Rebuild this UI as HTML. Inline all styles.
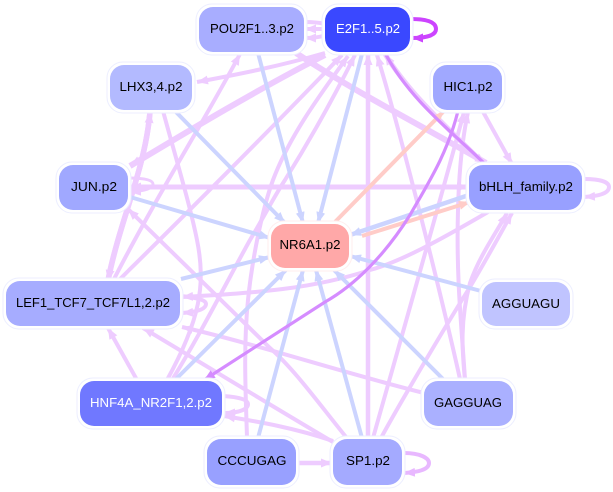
<!DOCTYPE html>
<html><head><meta charset="utf-8"><style>
html,body{margin:0;padding:0;background:#fff;width:613px;height:492px;overflow:hidden}
svg{display:block}
text{font-family:"Liberation Sans",sans-serif;font-size:12.5px;text-anchor:middle}
.p{stroke:#eeccff;fill:none}
.b{stroke:#ccd4ff;fill:none}
.s{stroke:#ffccc8;fill:none}
.v{stroke:#d58cff;fill:none}
.o{fill:#fff;stroke:#eceeff;stroke-width:1}
</style></head><body>
<svg width="613" height="492" viewBox="0 0 613 492" xmlns="http://www.w3.org/2000/svg">
<defs>
<marker id="mp" markerUnits="userSpaceOnUse" markerWidth="12" markerHeight="10" refX="11" refY="5" orient="auto"><polygon points="0,0.5 11,5 0,9.5" fill="#eeccff"/></marker>
<marker id="mb" markerUnits="userSpaceOnUse" markerWidth="12" markerHeight="10" refX="11" refY="5" orient="auto"><polygon points="0,0.5 11,5 0,9.5" fill="#ccd4ff"/></marker>
<marker id="ms" markerUnits="userSpaceOnUse" markerWidth="12" markerHeight="10" refX="11" refY="5" orient="auto"><polygon points="0,0.5 11,5 0,9.5" fill="#ffccc8"/></marker>
<marker id="mv" markerUnits="userSpaceOnUse" markerWidth="12" markerHeight="10" refX="11" refY="5" orient="auto"><polygon points="0,0.5 11,5 0,9.5" fill="#d58cff"/></marker>
<marker id="mc" markerUnits="userSpaceOnUse" markerWidth="12" markerHeight="10" refX="11" refY="5" orient="auto"><polygon points="0,0.5 11,5 0,9.5" fill="#cc44ff"/></marker>
<marker id="ml" markerUnits="userSpaceOnUse" markerWidth="12" markerHeight="10" refX="11" refY="5" orient="auto"><polygon points="0,0.5 11,5 0,9.5" fill="#e8b8ff"/></marker>
</defs>

<!-- pink edges -->
<g class="p" stroke-width="4" marker-end="url(#mp)">
<path d="M325 53 C280 66 240 74 197 82"/>
<path d="M325 55 C260 88 190 130 130 166" stroke-width="6"/>
<path d="M114 279 C160 190 205 120 240 54"/>
<path d="M296 53 C360 95 430 130 486 163" stroke-width="6"/>
<path d="M118 281 C190 210 270 130 342 55"/>
<path d="M172 380 C200 335 225 285 250 240 C265 215 275 195 285 180 C310 140 335 95 355 55"/>
<path d="M247 438 C246 400 243 350 248 300 C252 260 262 210 273 180 C290 135 320 95 348 56"/>
<path d="M163 111 C175 155 190 205 197 240 C206 285 200 320 167 380" marker-end="none"/>
<path d="M368 438 L368 54" stroke-width="4.5"/>
<path d="M460 379 C440 290 400 130 377 55"/>
<path d="M486 166 C450 130 410 95 385 54" stroke-width="5"/>
<path d="M373 438 C395 360 435 220 464 112"/>
<path d="M465 380 C462 330 456 280 458 210 C459 170 462 140 468 112"/>
<path d="M482 110 L512 164"/>
<path d="M381 438 C395 412 440 335 470 287 C485 262 498 238 512 213"/>
<path d="M465 380 C462 350 460 320 470 283 C480 255 495 235 507 213"/>
<path d="M488 212 C440 240 400 262 370 270 C310 290 250 293 182 297"/>
<path d="M130 187 L468 187" stroke-width="5"/>
<path d="M468 187 L130 187" stroke-width="5"/>
<path d="M108 280 C120 220 145 170 150 112" stroke-width="5.5"/>
<path d="M150 112 C145 170 120 220 108 281" stroke-width="5.5"/>
<path d="M346 437 C320 405 295 370 270 348 L128 209"/>
<path d="M333 442 C270 405 205 365 143 328"/>
<path d="M424 393 C340 372 260 345 182 327"/>
<path d="M137 380 L108 328"/>
<path d="M333 441 C295 428 260 422 224 416"/>
<path d="M296 463 L332 463" stroke-width="4.5"/>
<!-- self loops / short links -->
<path d="M304 22 C320 22 331 24 331 29 C331 35 320 38 305 38"/>
<path d="M325 29 L305 29"/>
<path d="M128 178 C148 178 153 181 153 184 C153 188 145 191 130 192" stroke-width="3"/>
<path d="M181 296 C198 298 206 300 206 304 C206 309 198 312 182 313"/>
<path d="M223 396 C240 397 248 400 248 404 C248 409 240 413 224 413"/>
<path d="M584 179 C600 179 609 182 609 187 C609 193 600 196 584 197"/>
<path d="M404 453 C420 453 429 458 429 463 C429 469 420 472 404 473" stroke="#e8b8ff" marker-end="url(#ml)"/>
</g>

<!-- blue edges -->
<g class="b" stroke-width="4">
<path d="M258 53 L303 223" marker-end="url(#mb)"/>
<path d="M362 54 L318 223" marker-end="url(#mb)"/>
<path d="M175 111 L285 223" marker-end="url(#mb)"/>
<path d="M130 197 L270 238" marker-end="url(#mb)"/>
<path d="M181 279 L270 257" marker-end="url(#mb)"/>
<path d="M175 380 L286 270" marker-end="url(#mb)"/>
<path d="M258 438 L303 270" marker-end="url(#mb)"/>
<path d="M362 438 L316 270" marker-end="url(#mb)"/>
<path d="M445 381 L334 270" marker-end="url(#mb)"/>
<path d="M481 291 L350 256" marker-end="url(#mb)"/>
<path d="M469 195 L350 235" stroke-width="4.5" marker-end="url(#mb)"/>
</g>

<!-- salmon edges -->
<g class="s" stroke-width="4">
<path d="M334 223 L444 111" marker-end="url(#ms)"/>
<path d="M362 236 L470 202" marker-end="url(#ms)"/>
</g>

<!-- purple edges -->
<g class="v" stroke-width="3.2">
<path d="M458 111 C447 155 427 185 410 215 C385 255 355 285 325 302 C290 325 250 350 204 380" marker-end="url(#mv)"/>
<path d="M385 53 C410 100 450 130 486 165"/>
</g>
<path d="M411 19 C427 19 436 22 436 29 C436 35 427 38 412 38" stroke="#cc44ff" stroke-width="4" fill="none" marker-end="url(#mc)"/>

<!-- nodes -->
<rect class="o" x="196" y="4" width="111" height="51" rx="16"/><rect x="199" y="7" width="105" height="45" rx="14" fill="#a8adff"/>
<text x="252" y="33" textLength="84" lengthAdjust="spacingAndGlyphs">POU2F1..3.p2</text>

<rect class="o" x="322" y="4" width="91" height="51" rx="16"/><rect x="325" y="7" width="85" height="45" rx="14" fill="#3a48ff"/>
<text x="368" y="33" fill="#fff" textLength="64" lengthAdjust="spacingAndGlyphs">E2F1..5.p2</text>

<rect class="o" x="107" y="62" width="88" height="51" rx="16"/><rect x="110" y="65" width="82" height="45" rx="14" fill="#b3baff"/>
<text x="151" y="91" textLength="63" lengthAdjust="spacingAndGlyphs">LHX3,4.p2</text>

<rect class="o" x="430" y="62" width="75" height="51" rx="16"/><rect x="433" y="65" width="69" height="45" rx="14" fill="#a0a8ff"/>
<text x="468" y="91" textLength="49" lengthAdjust="spacingAndGlyphs">HIC1.p2</text>

<rect class="o" x="56" y="162" width="75" height="51" rx="16"/><rect x="59" y="165" width="69" height="45" rx="14" fill="#a0a8ff"/>
<text x="94" y="191" textLength="46" lengthAdjust="spacingAndGlyphs">JUN.p2</text>

<rect class="o" x="466" y="162" width="119" height="51" rx="16"/><rect x="469" y="165" width="113" height="45" rx="14" fill="#98a0ff"/>
<text x="526" y="191" textLength="94" lengthAdjust="spacingAndGlyphs">bHLH_family.p2</text>

<rect class="o" x="268" y="221" width="84" height="50" rx="16" style="stroke:#ffeeee"/><rect x="271" y="224" width="78" height="44" rx="14" fill="#ffa8a8"/>
<text x="310" y="249" textLength="61" lengthAdjust="spacingAndGlyphs">NR6A1.p2</text>

<rect class="o" x="3" y="278" width="180" height="51" rx="16"/><rect x="6" y="281" width="174" height="45" rx="14" fill="#a6acff"/>
<text x="93" y="307" textLength="154" lengthAdjust="spacingAndGlyphs">LEF1_TCF7_TCF7L1,2.p2</text>

<rect class="o" x="479" y="279" width="94" height="50" rx="16"/><rect x="482" y="282" width="88" height="44" rx="14" fill="#c0c4ff"/>
<text x="526" y="308" textLength="68" lengthAdjust="spacingAndGlyphs">AGGUAGU</text>

<rect class="o" x="77" y="378" width="148" height="51" rx="16"/><rect x="80" y="381" width="142" height="45" rx="14" fill="#7078ff"/>
<text x="151" y="407" fill="#fff" textLength="122" lengthAdjust="spacingAndGlyphs">HNF4A_NR2F1,2.p2</text>

<rect class="o" x="421" y="378" width="95" height="51" rx="16"/><rect x="424" y="381" width="89" height="45" rx="14" fill="#aab0ff"/>
<text x="468" y="407" textLength="68" lengthAdjust="spacingAndGlyphs">GAGGUAG</text>

<rect class="o" x="204" y="436" width="95" height="52" rx="16"/><rect x="207" y="439" width="89" height="46" rx="14" fill="#98a0ff"/>
<text x="252" y="465" textLength="69" lengthAdjust="spacingAndGlyphs">CCCUGAG</text>

<rect class="o" x="330" y="436" width="75" height="52" rx="16"/><rect x="333" y="439" width="69" height="46" rx="14" fill="#a4aaff"/>
<text x="368" y="465" textLength="44" lengthAdjust="spacingAndGlyphs">SP1.p2</text>
</svg>
</body></html>
